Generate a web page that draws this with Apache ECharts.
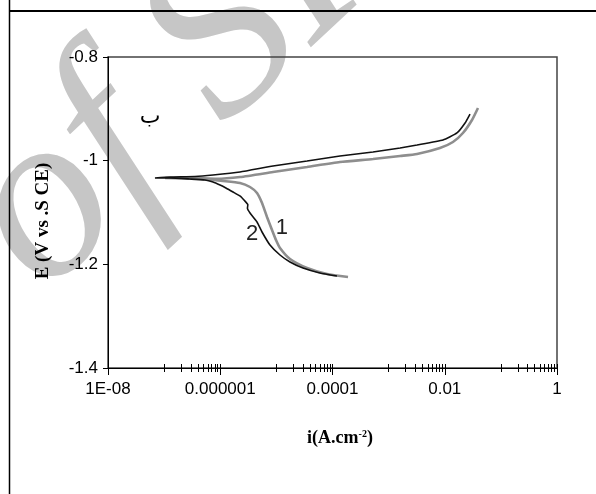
<!DOCTYPE html>
<html>
<head>
<meta charset="utf-8">
<script src="https://cdn.jsdelivr.net/npm/echarts@6/dist/echarts.min.js"></script>
<style>
html,body{margin:0;padding:0;background:#fff;}
#chart{width:596px;height:494px;}
</style>
</head>
<body>
<div id="chart"></div>
<script>
// ---- data ----
const curve1Current = [1.89e-4, 7.98e-5, 3.52e-5, 1.75e-5, 1.16e-5, 9.84e-6, 8.36e-6, 6.81e-6, 5.55e-6, 4.52e-6, 3.39e-6, 2.25e-6, 1.12e-6, 5.81e-7, 2.36e-7, 1.04e-7,
                       2.89e-7, 8.75e-7, 2.25e-6, 8.71e-6, 3.52e-5, 1.36e-4, 5.27e-4, 1.60e-3, 3.21e-3, 8.22e-3, 1.40e-2, 2.11e-2, 3.06e-2, 3.91e-2];
const curve1Potential = [-1.2244, -1.2187, -1.2071, -1.1897, -1.1685, -1.1531, -1.1338, -1.1087, -1.0817, -1.0624, -1.0508, -1.0431, -1.0392, -1.0363, -1.0344, -1.0334,
                         -1.0334, -1.0350, -1.0315, -1.0219, -1.0122, -1.0026, -0.9968, -0.9910, -0.9871, -0.9756, -0.9640, -0.9466, -0.9215, -0.8984];
const curve2Current = [1.20e-4, 5.98e-5, 2.98e-5, 1.75e-5, 1.16e-5, 7.69e-6, 5.55e-6, 4.52e-6, 3.39e-6, 3.05e-6, 3.10e-6, 2.70e-6, 2.30e-6, 1.69e-6, 1.26e-6, 9.91e-7, 7.43e-7, 5.35e-7, 2.89e-7, 1.27e-7, 6.87e-8,
                       1.27e-7, 3.55e-7, 7.43e-7, 2.25e-6, 8.71e-6, 3.52e-5, 1.36e-4, 5.27e-4, 1.60e-3, 3.21e-3, 9.31e-3, 1.65e-2, 2.30e-2, 2.82e-2];
const curve2Potential = [-1.2225, -1.2167, -1.2071, -1.1955, -1.1820, -1.1627, -1.1376, -1.1183, -1.1010, -1.0920, -1.0850, -1.0770, -1.0690, -1.0605, -1.0527, -1.0470, -1.0412, -1.0373, -1.0354, -1.0334, -1.0334,
                         -1.0315, -1.0305, -1.0277, -1.0219, -1.0103, -1.0006, -0.9910, -0.9833, -0.9756, -0.9698, -0.9601, -0.9466, -0.9273, -0.9100];
const curveLabels = ['1', '2'];
const curveLabelCurrent = [1.25e-5, 3.68e-6];
const curveLabelPotential = [-1.130, -1.1415];

const xTickLabels = ['1E-08', '0.000001', '0.0001', '0.01', '1'];
const xLabelExponents = [-8, -6, -4, -2, 0];
const xMajorExponents = [-8, -7, -6, -5, -4, -3, -2, -1, 0];
const xMinorDecades = [-7, -5, -3, -1];
const xMinorMultipliers = [2, 3, 4, 5, 6, 7, 8, 9];
const yMin = -1.4, yMax = -0.8, yStep = 0.2;
const xTitle = 'i(A.cm{sup|-2})';
const yTitle = 'E (V vs .S CE)';
const panelMark = 'ب';
const watermark = 'of SI';

// ---- build ----
const pairs = (xs, ys) => xs.map((x, i) => [x, ys[i]]);
const minorTicks = [];
xMinorDecades.forEach(d => xMinorMultipliers.forEach(m => minorTicks.push(d + Math.log10(m))));
const allTicks = xMajorExponents.concat(minorTicks);

const sans = "'Liberation Sans', Arial, sans-serif";
const serif = "'Liberation Serif', 'Times New Roman', serif";

const gridPos = {left: 108, right: 39, top: 57, bottom: 126};

function tickAxis(values, inside, len) {
  return {
    type: 'value', min: -8, max: 0, position: 'bottom', gridIndex: 0,
    axisLine: {show: false}, splitLine: {show: false},
    axisLabel: {show: false},
    axisTick: {show: true, inside: inside, length: len, customValues: values,
               lineStyle: {color: '#000', width: 1}}
  };
}

const chart = echarts.init(document.getElementById('chart'), null, {renderer: 'canvas'});
chart.setOption({
  backgroundColor: '#fff',
  animation: false,
  grid: Object.assign({show: true, borderColor: '#444', borderWidth: 1.5, backgroundColor: 'transparent'}, gridPos),
  xAxis: [
    {
      type: 'log', logBase: 10, min: 1e-8, max: 1, interval: 2, gridIndex: 0,
      axisLine: {show: true, onZero: false, lineStyle: {color: '#000', width: 1}},
      axisTick: {show: false},
      splitLine: {show: false},
      minorTick: {show: false},
      axisLabel: {
        margin: 13, color: '#000', fontSize: 17, fontFamily: sans,
        formatter: v => {
          const e = Math.round(Math.log10(v));
          const k = xLabelExponents.indexOf(e);
          return k >= 0 ? xTickLabels[k] : '';
        }
      }
    },
    tickAxis(allTicks, true, 4),
    tickAxis(allTicks, false, 4),
    tickAxis(xLabelExponents, false, 7)
  ],
  yAxis: {
    type: 'value', min: yMin, max: yMax, interval: yStep,
    axisLine: {show: true, onZero: false, lineStyle: {color: '#000', width: 1}},
    axisTick: {show: true, length: 5, lineStyle: {color: '#000'}},
    splitLine: {show: false},
    axisLabel: {margin: 10, color: '#000', fontSize: 17, fontFamily: sans}
  },
  graphic: [
    {type: 'text', x: 82, y: 338, rotation: 0.75, z: -100, silent: true,
     style: {text: watermark, font: 'italic 240px ' + serif, fill: '#c6c6c6', textAlign: 'left', textVerticalAlign: 'bottom'}},
    {type: 'line', shape: {x1: 9.5, y1: 0, x2: 9.5, y2: 494}, style: {stroke: '#000', lineWidth: 1.5}},
    {type: 'line', shape: {x1: 9, y1: 11, x2: 596, y2: 11}, style: {stroke: '#000', lineWidth: 2}},
    {type: 'text', x: 43, y: 221, rotation: Math.PI / 2,
     style: {text: yTitle, font: 'bold 19px ' + serif, fill: '#000', textAlign: 'center', textVerticalAlign: 'middle'}},
    {type: 'text', x: 340, y: 438,
     style: {text: xTitle, font: 'bold 18px ' + serif, fill: '#000', textAlign: 'center', textVerticalAlign: 'middle',
             rich: {sup: {font: 'bold 10px ' + serif, fill: '#000', verticalAlign: 'top', padding: [0, 0, 8, 0]}}}},
    {type: 'text', x: 150, y: 117,
     style: {text: panelMark, font: '22px "DejaVu Sans", sans-serif', fill: '#000', textAlign: 'center', textVerticalAlign: 'middle'}}
  ],
  series: [
    {
      name: '1', type: 'line', xAxisIndex: 0, yAxisIndex: 0,
      data: pairs(curve1Current, curve1Potential),
      showSymbol: false, smooth: 0.2,
      lineStyle: {color: '#8e8e8e', width: 2.6},
      markPoint: {
        symbol: 'circle', symbolSize: 0,
        label: {show: true, color: '#222', fontSize: 22, fontFamily: sans, formatter: p => p.name},
        data: [{name: curveLabels[0], coord: [curveLabelCurrent[0], curveLabelPotential[0]]}]
      }
    },
    {
      name: '2', type: 'line', xAxisIndex: 0, yAxisIndex: 0,
      data: pairs(curve2Current, curve2Potential),
      showSymbol: false, smooth: 0.15,
      lineStyle: {color: '#111', width: 1.6},
      markPoint: {
        symbol: 'circle', symbolSize: 0,
        label: {show: true, color: '#222', fontSize: 22, fontFamily: sans, formatter: p => p.name},
        data: [{name: curveLabels[1], coord: [curveLabelCurrent[1], curveLabelPotential[1]]}]
      }
    }
  ]
});
</script>
</body>
</html>
